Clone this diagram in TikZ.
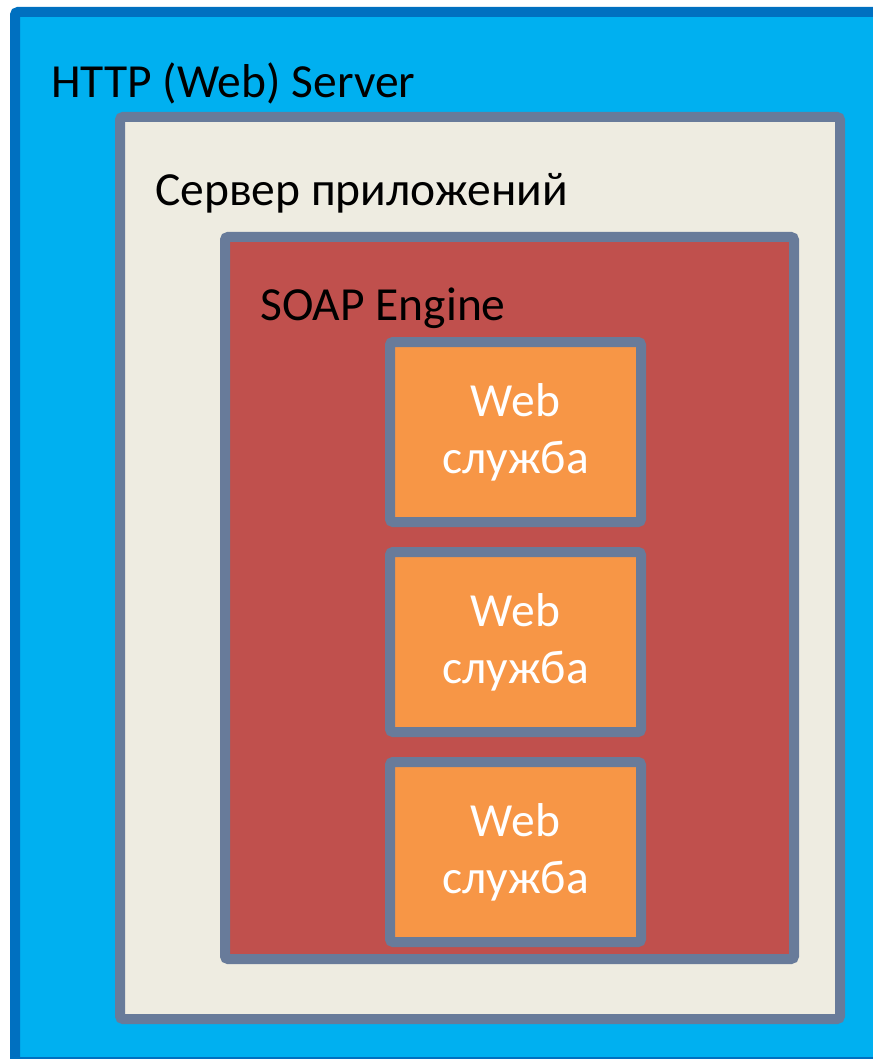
\documentclass[tikz,border=0pt]{standalone}
\usepackage{fontspec}
\setmainfont{Carlito}
\usetikzlibrary{positioning}

\definecolor{httpfill}{HTML}{00B0F0}
\definecolor{httpline}{HTML}{0070C0}
\definecolor{appfill}{HTML}{EEECE1}
\definecolor{frameline}{HTML}{687B9A}
\definecolor{soapfill}{HTML}{C0504D}
\definecolor{wsfill}{HTML}{F79646}

\begin{document}
\begin{tikzpicture}[x=1pt,y=-1pt,
  frame/.style={line width=10pt,rounded corners=3pt},
  title/.style={anchor=base west,inner sep=0pt,font=\fontsize{47.5}{57}\selectfont}]
  \tikzset{wsbox/.style={draw=frameline,fill=wsfill,line width=10pt,rounded corners=3pt,
    minimum width=251pt,minimum height=180pt,inner sep=0pt,text=white,align=center,
    font=\fontsize{47.5}{57}\selectfont}}
  \useasboundingbox (0,0) rectangle (872,1059);
  \draw[frame,draw=httpline,fill=httpfill] (15,12) rectangle (900,1062);
  \draw[frame,draw=frameline,fill=appfill] (120,117) rectangle (840,1019);
  \draw[frame,draw=frameline,fill=soapfill] (225,237) rectangle (794,959);
  \node[title] (http) at (51,98)  {HTTP (Web) Server};
  \node[title] (app)  at (155,206) {Сервер приложений};
  \node[title] (soap) at (260,320) {SOAP Engine};
  \node[wsbox] (ws1) at (515.5,432) {Web\\служба};
  \node[wsbox] (ws2) at (515.5,642) {Web\\служба};
  \node[wsbox] (ws3) at (515.5,852) {Web\\служба};
\end{tikzpicture}
\end{document}
